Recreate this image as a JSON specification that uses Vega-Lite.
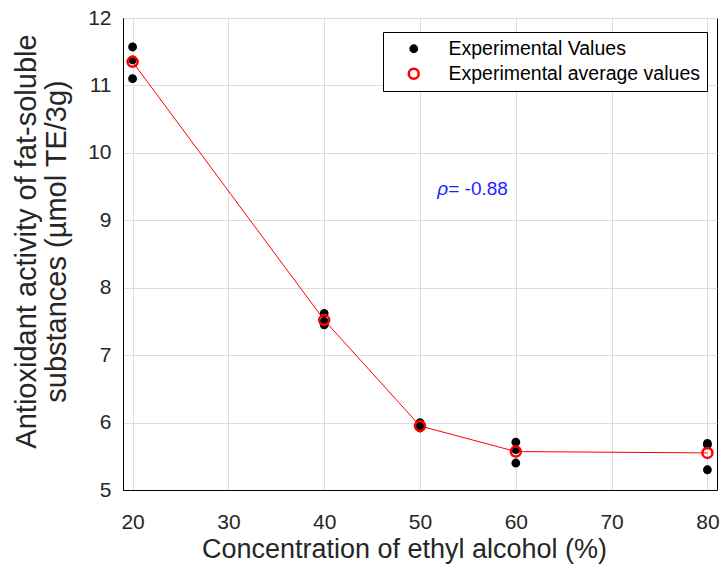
{
  "$schema": "https://vega.github.io/schema/vega-lite/v6.json",
  "width": 594,
  "height": 472,
  "autosize": "none",
  "padding": {"left": 123, "top": 18, "right": 9, "bottom": 80},
  "background": "white",
  "config": {
    "font": "Liberation Sans",
    "view": {"stroke": "black", "strokeWidth": 1},
    "axis": {
      "domainColor": "black",
      "gridColor": "#dcdcdc",
      "gridWidth": 1,
      "ticks": false,
      "labelColor": "#262626",
      "titleColor": "#262626",
      "labelFont": "Liberation Sans",
      "titleFont": "Liberation Sans",
      "labelFontSize": 21,
      "titleFontSize": 27,
      "titleFontWeight": "normal"
    },
    "legend": {
      "orient": "none",
      "legendX": 260,
      "legendY": 14,
      "strokeColor": "black",
      "fillColor": "white",
      "padding": 7,
      "labelFontSize": 19.5,
      "labelLimit": 0,
      "labelFont": "Liberation Sans",
      "labelColor": "black",
      "symbolOffset": 14,
      "labelOffset": 25,
      "rowPadding": 4,
      "symbolStrokeWidth": 2.5,
      "cornerRadius": 0,
      "titleFontSize": 0
    }
  },
  "data": {
    "values": [
      {"conc": 20, "value": 11.57, "type": "Experimental Values"},
      {"conc": 20, "value": 11.10, "type": "Experimental Values"},
      {"conc": 20, "value": 11.38, "type": "Experimental Values"},
      {"conc": 40, "value": 7.62, "type": "Experimental Values"},
      {"conc": 40, "value": 7.45, "type": "Experimental Values"},
      {"conc": 40, "value": 7.50, "type": "Experimental Values"},
      {"conc": 50, "value": 6.00, "type": "Experimental Values"},
      {"conc": 50, "value": 5.92, "type": "Experimental Values"},
      {"conc": 50, "value": 5.94, "type": "Experimental Values"},
      {"conc": 60, "value": 5.71, "type": "Experimental Values"},
      {"conc": 60, "value": 5.40, "type": "Experimental Values"},
      {"conc": 60, "value": 5.60, "type": "Experimental Values"},
      {"conc": 80, "value": 5.69, "type": "Experimental Values"},
      {"conc": 80, "value": 5.30, "type": "Experimental Values"},
      {"conc": 80, "value": 5.67, "type": "Experimental Values"},
      {"conc": 20, "value": 11.35, "type": "Experimental average values"},
      {"conc": 40, "value": 7.52, "type": "Experimental average values"},
      {"conc": 50, "value": 5.95, "type": "Experimental average values"},
      {"conc": 60, "value": 5.57, "type": "Experimental average values"},
      {"conc": 80, "value": 5.55, "type": "Experimental average values"}
    ]
  },
  "layer": [
    {
      "transform": [{"filter": "datum.type === 'Experimental average values'"}],
      "mark": {"type": "line", "color": "#ff0000", "strokeWidth": 1},
      "encoding": {
        "x": {"field": "conc", "type": "quantitative", "scale": {"domain": [19, 81], "nice": false, "zero": false},
              "axis": {"values": [20, 30, 40, 50, 60, 70, 80], "format": "d", "title": "Concentration of ethyl alcohol (%)", "labelPadding": 21, "titlePadding": 4, "titleX": 281}},
        "y": {"field": "value", "type": "quantitative", "scale": {"domain": [5, 12], "nice": false, "zero": false},
              "axis": {"values": [5, 6, 7, 8, 9, 10, 11, 12], "format": "d", "title": ["Antioxidant activity of fat-soluble", "substances (µmol TE/3g)"], "labelPadding": 12, "titlePadding": 16, "titleY": 223, "titleFontSize": 29, "titleLineHeight": 30}}
      }
    },
    {
      "mark": {"type": "point", "filled": false, "strokeWidth": 2.5, "opacity": 1},
      "encoding": {
        "x": {"field": "conc", "type": "quantitative"},
        "y": {"field": "value", "type": "quantitative"},
        "fill": {"field": "type", "type": "nominal", "title": null,
                 "scale": {"domain": ["Experimental Values", "Experimental average values"], "range": ["black", "transparent"]}},
        "stroke": {"field": "type", "type": "nominal", "title": null,
                   "scale": {"domain": ["Experimental Values", "Experimental average values"], "range": ["black", "#ff0000"]}},
        "size": {"field": "type", "type": "nominal", "title": null,
                 "scale": {"domain": ["Experimental Values", "Experimental average values"], "range": [40, 100]}}
      }
    },
    {
      "data": {"values": [{"label": "ρ"}]},
      "mark": {"type": "text", "fontSize": 19, "fontStyle": "italic", "color": "#1f1fff", "align": "left", "baseline": "alphabetic", "font": "Liberation Sans"},
      "encoding": {
        "x": {"datum": 51.8, "type": "quantitative"},
        "y": {"datum": 9.38, "type": "quantitative"},
        "text": {"field": "label"}
      }
    },
    {
      "data": {"values": [{"label": "= -0.88"}]},
      "mark": {"type": "text", "fontSize": 19, "color": "#1f1fff", "align": "left", "baseline": "alphabetic", "dx": 11, "font": "Liberation Sans"},
      "encoding": {
        "x": {"datum": 51.8, "type": "quantitative"},
        "y": {"datum": 9.38, "type": "quantitative"},
        "text": {"field": "label"}
      }
    }
  ]
}
